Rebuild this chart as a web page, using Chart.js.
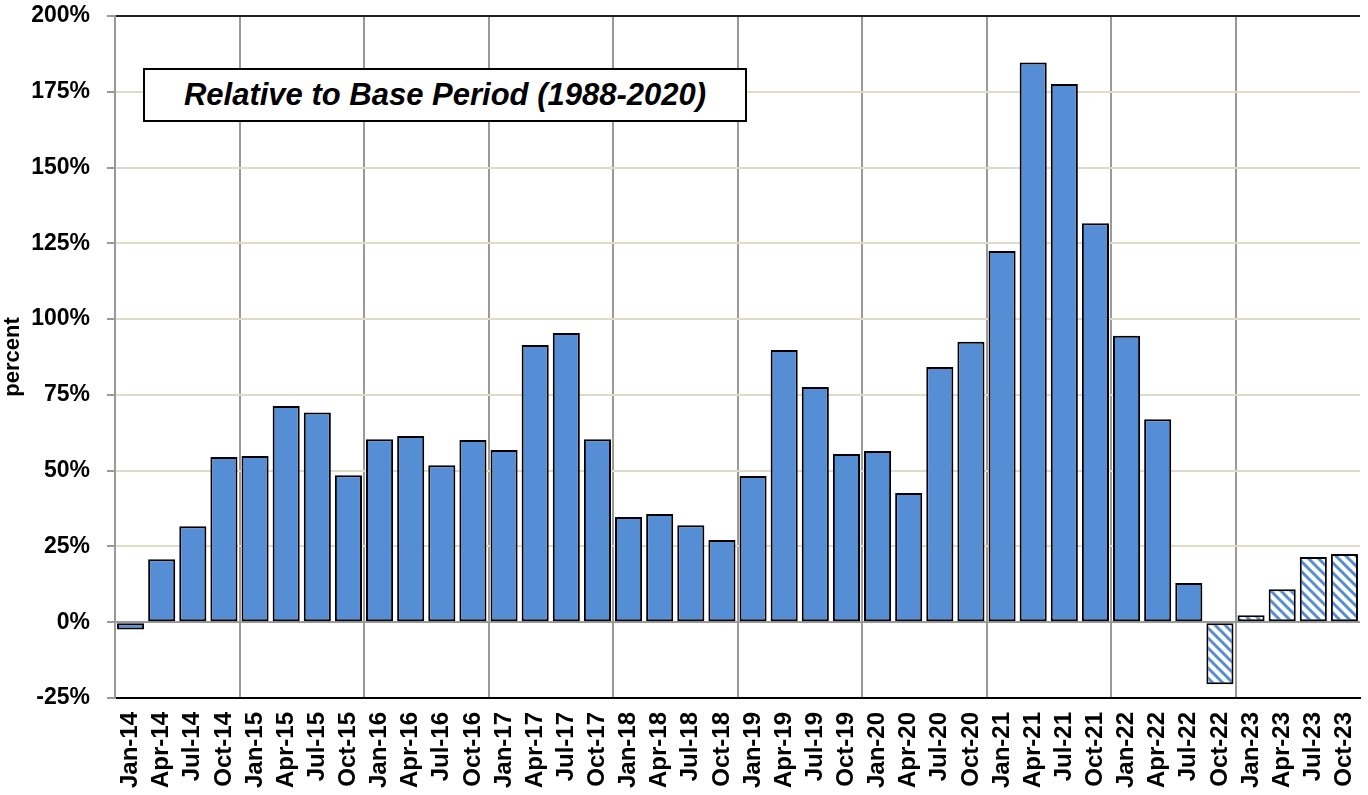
<!DOCTYPE html>
<html>
<head>
<meta charset="utf-8">
<script src="https://cdn.jsdelivr.net/npm/chart.js@4"></script>
<style>
  html, body { margin: 0; padding: 0; background: #fff; }
  #wrap { position: relative; width: 1368px; height: 795px; }
  #note {
    position: absolute; left: 143px; top: 68px; width: 600px; height: 50px;
    border: 2px solid #000; background: #fff;
    font: italic bold 31px "Liberation Sans", Arial, sans-serif;
    display: flex; align-items: center; justify-content: center;
  }
</style>
</head>
<body>
<div id="wrap">
  <canvas id="chart" width="1368" height="795"></canvas>
  <div id="note">Relative to Base Period (1988-2020)</div>
</div>
<script>
// quarterly categories
const labels = [
  'Jan-14','Apr-14','Jul-14','Oct-14','Jan-15','Apr-15','Jul-15','Oct-15',
  'Jan-16','Apr-16','Jul-16','Oct-16','Jan-17','Apr-17','Jul-17','Oct-17',
  'Jan-18','Apr-18','Jul-18','Oct-18','Jan-19','Apr-19','Jul-19','Oct-19',
  'Jan-20','Apr-20','Jul-20','Oct-20','Jan-21','Apr-21','Jul-21','Oct-21',
  'Jan-22','Apr-22','Jul-22','Oct-22','Jan-23','Apr-23','Jul-23','Oct-23'
];

// percent vs base period
const values = [
  -2.4, 20.8, 31.7, 54.5, 54.8, 71.3, 69.2, 48.5,
  60.4, 61.4, 51.8, 60.1, 56.8, 91.5, 95.4, 60.4,
  34.7, 35.7, 32.0, 27.1, 48.2, 89.8, 77.6, 55.5,
  56.5, 42.6, 84.2, 92.5, 122.5, 184.7, 177.6, 131.6,
  94.5, 67.0, 12.9, -20.5, 2.3, 10.9, 21.5, 22.5
];

// which bars are drawn hatched
const hatched = [
  0,0,0,0,0,0,0,0, 0,0,0,0,0,0,0,0, 0,0,0,0,0,0,0,0,
  0,0,0,0,0,0,0,0, 0,0,0,1,1,1,1,1
];

const yTicks = { min: -25, max: 200, step: 25 };

const blue = '#558ed5';
const font = '"Liberation Sans", Arial, sans-serif';

function makeHatch() {
  const c = document.createElement('canvas');
  c.width = 10; c.height = 10;
  const g = c.getContext('2d');
  g.fillStyle = '#fff';
  g.fillRect(0, 0, 10, 10);
  g.strokeStyle = blue;
  g.lineWidth = 3;
  g.beginPath();
  g.moveTo(-5, -5); g.lineTo(15, 15);
  g.moveTo(-5, 5); g.lineTo(5, 15);
  g.moveTo(5, -5); g.lineTo(15, 5);
  g.stroke();
  return g.createPattern(c, 'repeat');
}

const ctx = document.getElementById('chart').getContext('2d');
const hatch = makeHatch();

new Chart(ctx, {
  type: 'bar',
  data: {
    labels: labels,
    datasets: [{
      data: values,
      backgroundColor: hatched.map(h => h ? hatch : blue),
      borderColor: '#000',
      borderWidth: 2,
      borderSkipped: false,
      categoryPercentage: 1,
      barPercentage: 0.87
    }]
  },
  options: {
    responsive: false,
    animation: false,
    layout: { padding: { top: 16, right: 8, left: 0, bottom: 0 } },
    plugins: { legend: { display: false }, tooltip: { enabled: false } },
    scales: {
      x: {
        grid: {
          offset: true,
          drawTicks: false,
          lineWidth: 2,
          color: c => (c.index % 4 === 0 ? '#999' : 'rgba(0,0,0,0)')
        },
        border: { color: '#000', width: 2 },
        ticks: {
          autoSkip: false, maxRotation: 90, minRotation: 90, padding: 14,
          color: '#000', font: { family: font, weight: 'bold', size: 24 }
        },
        afterFit: s => { s.height = 97; s.paddingLeft = 0; s.paddingRight = 0; }
      },
      y: {
        min: yTicks.min, max: yTicks.max,
        grid: {
          lineWidth: 2,
          color: c => {
            const v = c.tick ? c.tick.value : null;
            if (v === 0) return '#999';
            if (v === 200) return '#222';
            return '#dedbc8';
          },
          tickColor: '#999',
          tickLength: 8
        },
        border: { color: '#999', width: 2 },
        ticks: {
          stepSize: yTicks.step, padding: 17, color: '#000',
          font: { family: font, weight: 'bold', size: 23 },
          callback: v => v + '%'
        },
        title: {
          display: true, text: 'percent', color: '#000', padding: { top: 0, bottom: 4 },
          font: { family: font, weight: 'bold', size: 22 }
        },
        afterFit: s => { s.width = 115; s.paddingTop = 0; s.paddingBottom = 0; }
      }
    }
  }
});
</script>
</body>
</html>
